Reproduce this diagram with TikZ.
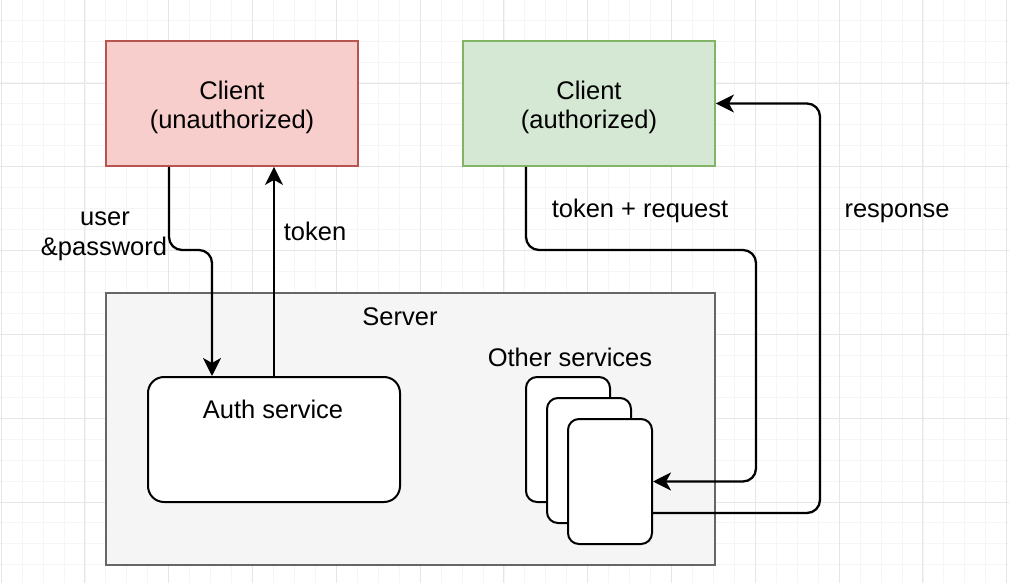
\documentclass[tikz,border=0pt]{standalone}
\usepackage{fontspec}
\setmainfont{Liberation Sans}
\usetikzlibrary{arrows.meta}
\definecolor{redfill}{HTML}{F8CECC}
\definecolor{redline}{HTML}{B85450}
\definecolor{greenfill}{HTML}{D5E8D4}
\definecolor{greenline}{HTML}{82B366}
\definecolor{grayfill}{HTML}{F5F5F5}
\definecolor{grayline}{HTML}{666666}
\definecolor{gridminor}{HTML}{F5F5F5}
\definecolor{gridmajor}{HTML}{E6E6E6}
\tikzset{
  txt/.style={font=\fontsize{25.5}{29}\selectfont, inner sep=0pt, anchor=base},
  clientbox/.style={draw, line width=1.8pt, minimum width=252pt, minimum height=125pt},
  svcbox/.style={draw=black, fill=white, line width=2pt, rounded corners=16pt},
  card/.style={draw=black, fill=white, line width=2pt, rounded corners=11pt, minimum width=84pt, minimum height=125pt},
  conn/.style={line width=2.3pt, rounded corners=13pt},
  arr/.style={conn, -{Stealth[length=18pt,width=18pt,inset=5pt]}},
}
\begin{document}
\begin{tikzpicture}[x=1pt,y=-1pt]
\useasboundingbox (0,0) rectangle (1009,583);
\fill[white] (0,0) rectangle (1009,583);
% grid
\foreach \i in {-4,...,48} {
  \draw[gridminor, line width=0.6pt] ({1+20.95*\i},0) -- ({1+20.95*\i},583);
}
\foreach \i in {-4,...,28} {
  \draw[gridminor, line width=0.6pt] (0,{-1+20.95*\i}) -- (1009,{-1+20.95*\i});
}
\foreach \i in {0,...,12} {
  \draw[gridmajor, line width=0.8pt] ({1+83.8*\i},0) -- ({1+83.8*\i},583);
}
\foreach \i in {0,...,7} {
  \draw[gridmajor, line width=0.8pt] (0,{-0.8+83.8*\i}) -- (1009,{-0.8+83.8*\i});
}
% clients
\node[clientbox, fill=redfill, draw=redline] (cu) at (232,103.5) {};
\node[txt] (cut1) at (232,100) {Client};
\node[txt] (cut2) at (232,129) {(unauthorized)};
\node[clientbox, fill=greenfill, draw=greenline] (ca) at (589,103.5) {};
\node[txt] (cat1) at (589,100) {Client};
\node[txt] (cat2) at (589,129) {(authorized)};
% server
\node[draw=grayline, fill=grayfill, line width=1.8pt, minimum width=609pt, minimum height=272pt] (server) at (410.5,429) {};
\node[txt] (serverlbl) at (400,325) {Server};
% auth service
\node[svcbox, minimum width=252pt, minimum height=125pt] (auth) at (274,439.5) {};
\node[txt] (authlbl) at (273,418) {Auth service};
% other services
\node[txt] (oslbl) at (570,366) {Other services};
\node[card] (os1) at (568,439.5) {};
\node[card] (os2) at (589,460.5) {};
\node[card] (os3) at (610,481.5) {};
% connectors
\draw[arr] ([xshift=-63pt]cu.south) -- (169,250) -- (212,250) -- ([xshift=-62pt]auth.north);
\draw[arr] (auth.north) -- (auth.north |- cu.south);
\draw[arr] ([xshift=-63pt]ca.south) -- (526,250) -- (756,250) -- (756,481.5) -- (os3.east);
\draw[arr] ([yshift=-31.5pt]os3.east) -- (820,513) -- (820,103.5) -- (ca.east);
% labels
\node[txt] (l1a) at (105,225) {user};
\node[txt] (l1b) at (104,255) {\&password};
\node[txt] (l2) at (315,240) {token};
\node[txt] (l3) at (640,217) {token + request};
\node[txt] (l4) at (897,217) {response};
\end{tikzpicture}
\end{document}
